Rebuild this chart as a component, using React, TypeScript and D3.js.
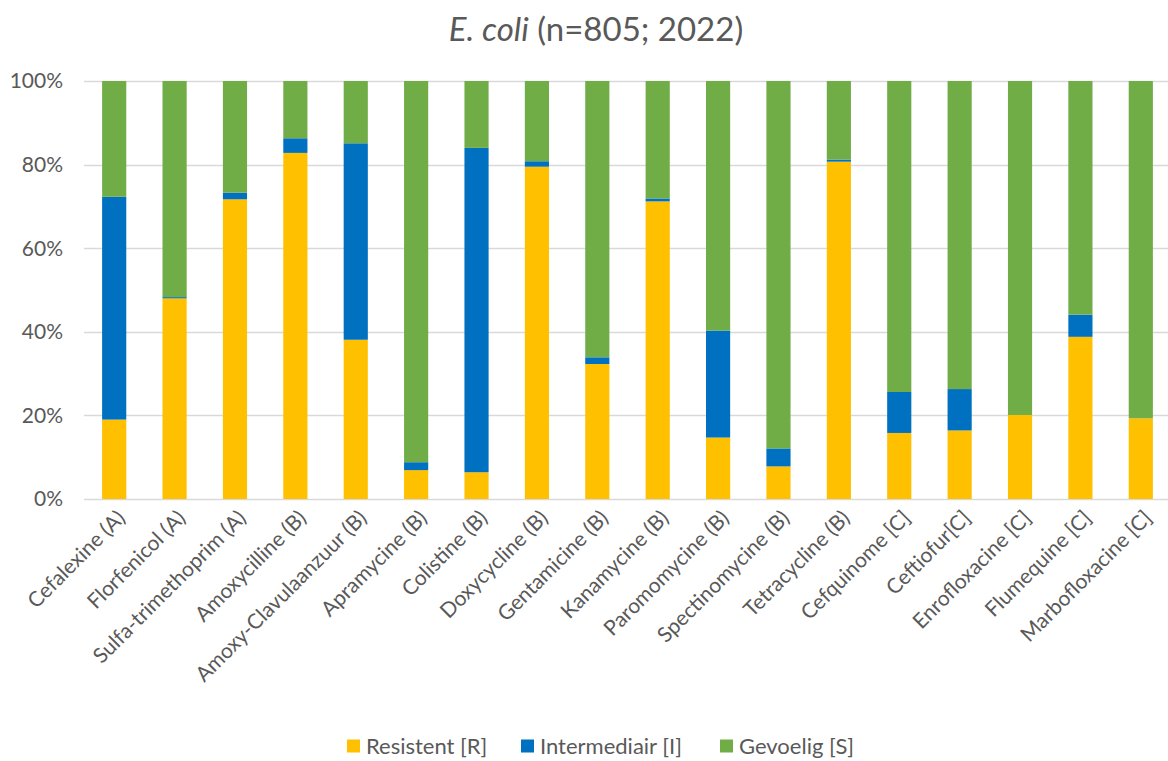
import React, { useEffect, useRef } from "react";
import * as d3 from "d3";

const categories = [
  "Cefalexine (A)",
  "Florfenicol (A)",
  "Sulfa-trimethoprim (A)",
  "Amoxycilline (B)",
  "Amoxy-Clavulaanzuur (B)",
  "Apramycine (B)",
  "Colistine (B)",
  "Doxycycline (B)",
  "Gentamicine (B)",
  "Kanamycine (B)",
  "Paromomycine (B)",
  "Spectinomycine (B)",
  "Tetracycline (B)",
  "Cefquinome [C]",
  "Ceftiofur[C]",
  "Enrofloxacine [C]",
  "Flumequine [C]",
  "Marbofloxacine [C]",
];

const resistent = [19.0, 48.0, 71.7, 82.8, 38.1, 6.9, 6.4, 79.5, 32.3, 71.2, 14.7, 7.8, 80.7, 15.8, 16.4, 20.1, 38.8, 19.3];
const intermediair = [53.3, 0.3, 1.6, 3.5, 47.0, 1.9, 77.6, 1.3, 1.6, 0.7, 25.6, 4.3, 0.5, 9.8, 9.9, 0, 5.3, 0];
const gevoelig = resistent.map((r, i) => +(100 - r - intermediair[i]).toFixed(1));

const seriesNames = ["Resistent [R]", "Intermediair [I]", "Gevoelig [S]"];
const seriesColors = ["#FFC000", "#0070C0", "#70AD47"];
const yTicks = [0, 20, 40, 60, 80, 100];

const FONT = "Lato, 'Open Sans', sans-serif";
const TEXT = "#595959";

export default function App() {
  const svgRef = useRef<SVGSVGElement>(null);

  useEffect(() => {
    const width = 1168;
    const height = 761;
    const margin = { top: 81, right: -3, bottom: 262, left: 84 };
    const innerW = width - margin.left - margin.right;
    const innerH = height - margin.top - margin.bottom;

    const svg = d3.select(svgRef.current);
    svg.selectAll("*").remove();
    svg.attr("width", width).attr("height", height);

    const rows = categories.map((c, i) => ({
      category: c,
      R: resistent[i],
      I: intermediair[i],
      S: gevoelig[i],
    }));

    const stack = d3.stack<any>().keys(["R", "I", "S"]);
    const stacked = stack(rows);

    const x = d3.scaleBand().domain(categories).range([0, innerW]).paddingInner(0.6).paddingOuter(0.3);
    const y = d3.scaleLinear().domain([0, 100]).range([innerH, 0]);

    // Title
    const title = svg
      .append("text")
      .attr("x", 596)
      .attr("y", 41)
      .attr("text-anchor", "middle")
      .attr("font-family", FONT)
      .attr("font-size", 33)
      .attr("fill", TEXT);
    title.append("tspan").attr("font-style", "italic").text("E. coli");
    title.append("tspan").text(" (n=805; 2022)");

    const g = svg.append("g").attr("transform", `translate(${margin.left},${margin.top})`);

    // gridlines
    g.selectAll("line.grid")
      .data(yTicks)
      .join("line")
      .attr("class", "grid")
      .attr("x1", 0)
      .attr("x2", innerW)
      .attr("y1", (d) => Math.round(y(d)) + 0.5)
      .attr("y2", (d) => Math.round(y(d)) + 0.5)
      .attr("stroke", "#D9D9D9")
      .attr("stroke-width", 1.3);

    // y labels
    g.selectAll("text.ytick")
      .data(yTicks)
      .join("text")
      .attr("class", "ytick")
      .attr("x", -21)
      .attr("y", (d) => y(d))
      .attr("dy", "0.35em")
      .attr("text-anchor", "end")
      .attr("font-family", FONT)
      .attr("font-size", 21)
      .attr("fill", TEXT)
      .text((d) => `${d}%`);

    // bars
    g.selectAll("g.series")
      .data(stacked)
      .join("g")
      .attr("class", "series")
      .attr("fill", (d, i) => seriesColors[i])
      .selectAll("rect")
      .data((d) => d)
      .join("rect")
      .attr("x", (d: any) => x(d.data.category)!)
      .attr("width", x.bandwidth())
      .attr("y", (d) => y(d[1]))
      .attr("height", (d) => y(d[0]) - y(d[1]));

    // x labels
    g.selectAll("text.xtick")
      .data(categories)
      .join("text")
      .attr("class", "xtick")
      .attr("transform", (d) => `translate(${x(d)! + x.bandwidth() / 2 + 7},${innerH + 15}) rotate(-45)`)
      .attr("text-anchor", "end")
      .attr("dy", "0.35em")
      .attr("font-family", FONT)
      .attr("font-size", 21)
      .attr("fill", TEXT)
      .text((d) => d);

    // legend
    const legendX = [347, 521, 720];
    const legend = svg
      .selectAll("g.legend")
      .data(seriesNames)
      .join("g")
      .attr("class", "legend")
      .attr("transform", (d, i) => `translate(${legendX[i]},746)`);
    legend
      .append("rect")
      .attr("x", 0)
      .attr("y", -6.5)
      .attr("width", 13)
      .attr("height", 13)
      .attr("fill", (d, i) => seriesColors[i]);
    legend
      .append("text")
      .attr("x", 19)
      .attr("y", 0)
      .attr("dy", "0.35em")
      .attr("font-family", FONT)
      .attr("font-size", 22)
      .attr("fill", TEXT)
      .text((d) => d);
  }, []);

  return <svg ref={svgRef} style={{ display: "block", position: "absolute", left: 0, top: 0 }}></svg>;
}
